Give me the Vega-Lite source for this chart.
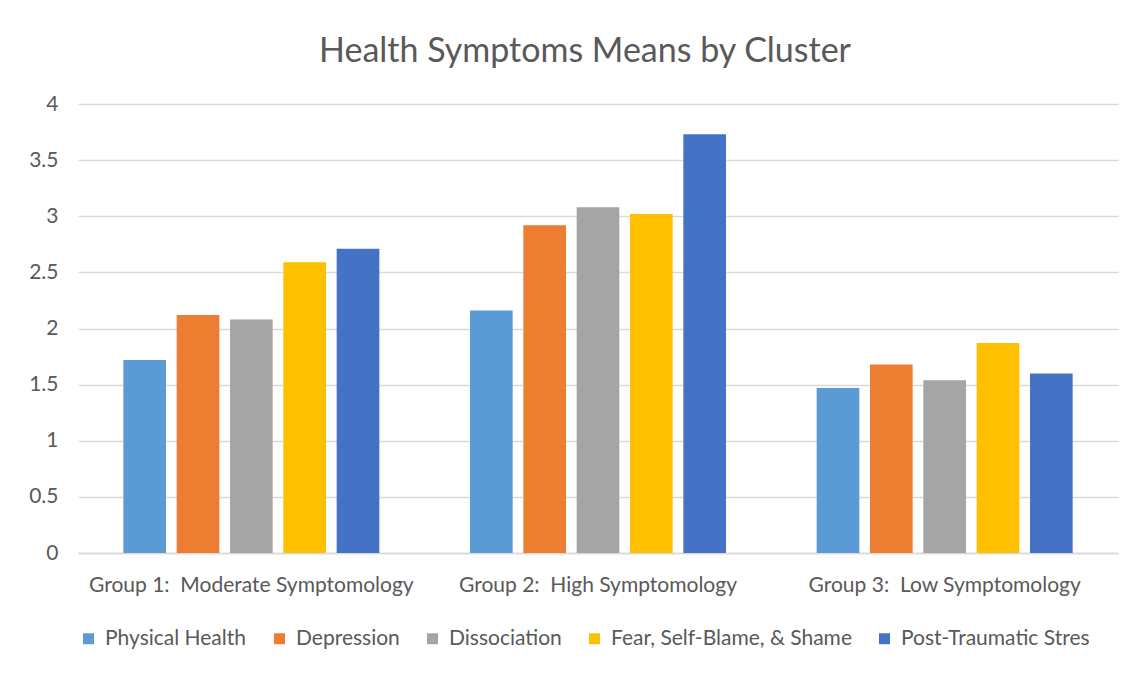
{
  "$schema": "https://vega.github.io/schema/vega-lite/v6.json",
  "width": 1040,
  "height": 449,
  "autosize": {"type": "none"},
  "padding": {"left": 78, "top": 104, "right": 27, "bottom": 122},
  "background": "#ffffff",
  "title": {
    "text": "Health Symptoms Means by Cluster",
    "font": "Lato",
    "fontSize": 34,
    "fontWeight": "normal",
    "color": "#595959",
    "anchor": "middle",
    "dx": -13,
    "offset": 24
  },
  "data": {
    "values": [
      {"group": "Group 1:  Moderate Symptomology", "symptom": "Physical Health", "mean": 1.72},
      {"group": "Group 1:  Moderate Symptomology", "symptom": "Depression", "mean": 2.12},
      {"group": "Group 1:  Moderate Symptomology", "symptom": "Dissociation", "mean": 2.08},
      {"group": "Group 1:  Moderate Symptomology", "symptom": "Fear, Self-Blame, & Shame", "mean": 2.59},
      {"group": "Group 1:  Moderate Symptomology", "symptom": "Post-Traumatic Stres", "mean": 2.71},
      {"group": "Group 2:  High Symptomology", "symptom": "Physical Health", "mean": 2.16},
      {"group": "Group 2:  High Symptomology", "symptom": "Depression", "mean": 2.92},
      {"group": "Group 2:  High Symptomology", "symptom": "Dissociation", "mean": 3.08},
      {"group": "Group 2:  High Symptomology", "symptom": "Fear, Self-Blame, & Shame", "mean": 3.02},
      {"group": "Group 2:  High Symptomology", "symptom": "Post-Traumatic Stres", "mean": 3.73},
      {"group": "Group 3:  Low Symptomology", "symptom": "Physical Health", "mean": 1.47},
      {"group": "Group 3:  Low Symptomology", "symptom": "Depression", "mean": 1.68},
      {"group": "Group 3:  Low Symptomology", "symptom": "Dissociation", "mean": 1.54},
      {"group": "Group 3:  Low Symptomology", "symptom": "Fear, Self-Blame, & Shame", "mean": 1.87},
      {"group": "Group 3:  Low Symptomology", "symptom": "Post-Traumatic Stres", "mean": 1.60}
    ]
  },
  "mark": {"type": "bar"},
  "encoding": {
    "x": {
      "field": "group",
      "type": "nominal",
      "sort": null,
      "scale": {"paddingInner": 0, "paddingOuter": 0},
      "axis": {
        "title": null,
        "labelAngle": 0,
        "labelFont": "Lato",
        "labelFontSize": 21,
        "labelColor": "#595959",
        "labelPadding": 21,
        "labelLimit": 400,
        "labelExpr": "replace(datum.label, ':  ', ': \u00a0')",
        "ticks": false,
        "domainColor": "#D9D9D9",
        "domainWidth": 1.5,
        "grid": false
      }
    },
    "xOffset": {
      "field": "symptom",
      "type": "nominal",
      "sort": ["Physical Health", "Depression", "Dissociation", "Fear, Self-Blame, & Shame", "Post-Traumatic Stres"],
      "scale": {"paddingInner": 0.2, "paddingOuter": 0.85}
    },
    "y": {
      "field": "mean",
      "type": "quantitative",
      "scale": {"domain": [0, 4]},
      "axis": {
        "title": null,
        "values": [0, 0.5, 1, 1.5, 2, 2.5, 3, 3.5, 4],
        "format": "~g",
        "labelFont": "Lato",
        "labelFontSize": 21,
        "labelColor": "#595959",
        "labelPadding": 20,
        "ticks": false,
        "domain": false,
        "grid": true,
        "gridColor": "#D9D9D9",
        "gridWidth": 1.5
      }
    },
    "color": {
      "field": "symptom",
      "type": "nominal",
      "sort": ["Physical Health", "Depression", "Dissociation", "Fear, Self-Blame, & Shame", "Post-Traumatic Stres"],
      "scale": {
        "domain": ["Physical Health", "Depression", "Dissociation", "Fear, Self-Blame, & Shame", "Post-Traumatic Stres"],
        "range": ["#5B9BD5", "#ED7D31", "#A5A5A5", "#FFC000", "#4472C4"]
      },
      "legend": {
        "title": null,
        "orient": "bottom",
        "direction": "horizontal",
        "offset": 33,
        "symbolType": "square",
        "symbolSize": 120,
        "symbolStrokeWidth": 0,
        "labelFont": "Lato",
        "labelFontSize": 21,
        "labelColor": "#595959",
        "columnPadding": 22,
        "labelOffset": 6,
        "labelLimit": 400
      }
    }
  },
  "config": {
    "view": {"stroke": null}
  }
}
